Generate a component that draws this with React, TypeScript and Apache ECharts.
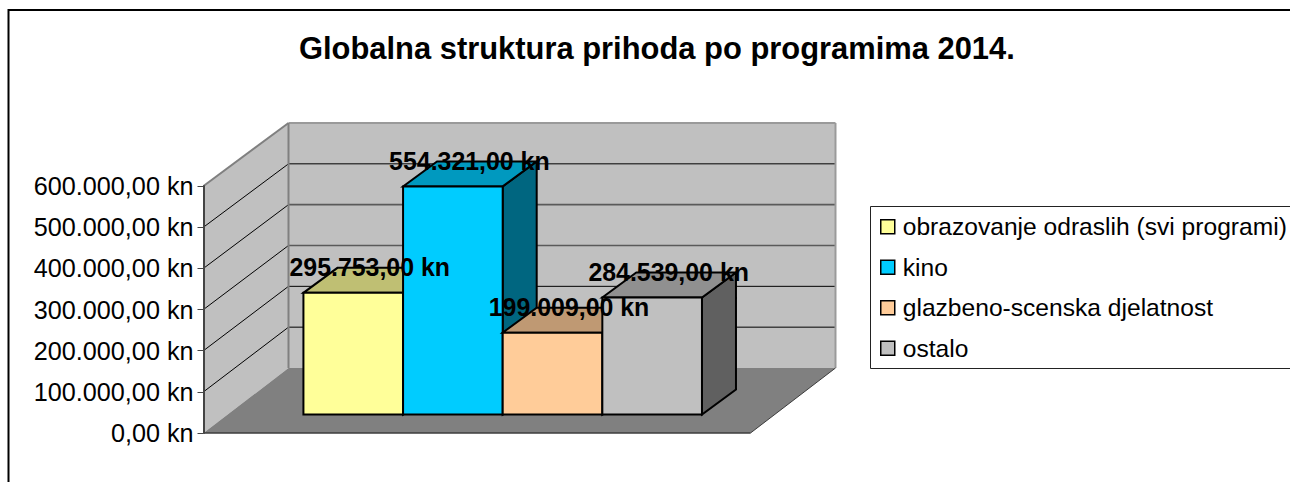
import React, { useEffect, useRef } from "react";
import * as echarts from "echarts";

const TITLE = "Globalna struktura prihoda po programima 2014.";
const PROGRAMS = ["obrazovanje odraslih (svi programi)", "kino", "glazbeno-scenska djelatnost", "ostalo"];
const VALUES = [295753, 554321, 199009, 284539];
const FRONT_COLORS = ["#FFFF99", "#00CCFF", "#FFCC99", "#C0C0C0"];
const TOP_COLORS = ["#BFBF73", "#0099BF", "#BF9973", "#909090"];
const SIDE_COLORS = ["#808040", "#006680", "#806640", "#606060"];
const TICKS = [100000, 200000, 300000, 400000, 500000, 600000];
const BACK_LINE_COLORS = ["#000000", "#000000", "#5a5a5a", "#5a5a5a", "#000000", "#8c8c8c"];
const BACK_LINE_WIDTHS = [1, 1, 1.6, 1.6, 1, 2];

const FONT = '"Liberation Sans", Arial, sans-serif';
const X_MIN = -0.75;
const X_MAX = 4.74;
const WALL_DX = 85;
const WALL_DY = -65;
const WALL_SCALE = 245 / 247;
const BASE_DX = 25.2;
const BASE_DY = -18.4;
const BAR_DX = 34;
const BAR_DY = -25;

const fmt = (v: number) => {
  const s = String(Math.round(v));
  return s.replace(/\B(?=(\d{3})+$)/g, ".") + ",00 kn";
};

const poly = (points: number[][], fill: string, stroke?: string, lineWidth = 2) => ({
  type: "polygon",
  shape: { points },
  style: { fill, stroke: stroke || "none", lineWidth, lineJoin: "miter" },
});
const line = (a: number[], b: number[], stroke: string, lineWidth: number) => ({
  type: "line",
  shape: { x1: a[0], y1: a[1], x2: b[0], y2: b[1] },
  style: { stroke, lineWidth },
});

const renderWalls = (_p: any, api: any) => {
  const o = api.coord([X_MIN, 0]);
  const r = api.coord([X_MAX, 0]);
  const t = api.coord([X_MIN, 600000]);
  const back = (p: number[]) => [p[0] + WALL_DX, o[1] + WALL_DY - (o[1] - p[1]) * WALL_SCALE];
  const b = back(o);
  const rb = back(r);
  const tb = back(t);
  const children: any[] = [
    poly([o, t, tb, b], "#C0C0C0"),
    poly([b, tb, [rb[0], tb[1]], rb], "#C0C0C0"),
    poly([o, b, rb, r], "#808080"),
  ];
  TICKS.forEach((v, i) => {
    const p = api.coord([X_MIN, v]);
    const q = back(p);
    if (v < 600000) {
      children.push(line(p, q, "#000000", 1));
      children.push(line(q, [rb[0], q[1]], BACK_LINE_COLORS[i], BACK_LINE_WIDTHS[i]));
    }
  });
  children.push(line(t, tb, "#808080", 2));
  children.push(line(tb, [rb[0], tb[1]], "#9a9a9a", 2));
  children.push(line([rb[0], tb[1]], rb, "#9a9a9a", 2));
  children.push(line(b, tb, "#808080", 2));
  children.push(line(o, r, "#3c3c3c", 1.5));
  children.push(line(r, rb, "#3c3c3c", 1));
  return { type: "group", children };
};

const renderBar = (k: number) => (_p: any, api: any) => {
  const a0 = api.coord([api.value(0), 0]);
  const a1 = api.coord([api.value(0) + 1, api.value(1)]);
  const x0 = a0[0] + BASE_DX;
  const x1 = a1[0] + BASE_DX;
  const yb = a0[1] + BASE_DY;
  const yt = a1[1] + BASE_DY;
  return {
    type: "group",
    children: [
      poly([[x1, yb], [x1, yt], [x1 + BAR_DX, yt + BAR_DY], [x1 + BAR_DX, yb + BAR_DY]], SIDE_COLORS[k], "#000"),
      poly([[x0, yt], [x1, yt], [x1 + BAR_DX, yt + BAR_DY], [x0 + BAR_DX, yt + BAR_DY]], TOP_COLORS[k], "#000"),
      poly([[x0, yb], [x1, yb], [x1, yt], [x0, yt]], FRONT_COLORS[k], "#000"),
    ],
  };
};

const renderLabel = (_p: any, api: any) => {
  const c = api.coord([api.value(0) + 0.5, api.value(1)]);
  return {
    type: "text",
    x: c[0] + BASE_DX + 16.5,
    y: c[1] + BASE_DY - 25.5,
    style: {
      text: fmt(api.value(1)),
      fill: "#000",
      font: `bold 24.9px ${FONT}`,
      textAlign: "center",
      textVerticalAlign: "middle",
    },
  };
};

export default function App() {
  const ref = useRef<HTMLDivElement>(null);
  useEffect(() => {
    const chart = echarts.init(ref.current!, undefined, { renderer: "svg" });
    chart.setOption({
      animation: false,
      backgroundColor: "#fff",
      title: {
        text: TITLE,
        left: 299,
        top: 33,
        padding: 0,
        textStyle: { fontFamily: FONT, fontWeight: "bold", fontSize: 30.9, color: "#000" },
      },
      grid: { left: 203.5, top: 186, width: 547, height: 247, containLabel: false },
      xAxis: { type: "value", min: X_MIN, max: X_MAX, show: false },
      yAxis: {
        type: "value",
        min: 0,
        max: 600000,
        interval: 100000,
        axisLine: { show: true, onZero: false, lineStyle: { color: "#444", width: 2 } },
        axisTick: { show: true, length: 6, lineStyle: { color: "#444", width: 1 } },
        splitLine: { show: false },
        axisLabel: { margin: 10, color: "#000", fontFamily: FONT, fontSize: 25.2, formatter: (v: number) => (v === 0 ? "0,00 kn" : fmt(v)) },
        z: 5,
      },
      legend: {
        left: 880,
        top: 212.5,
        orient: "vertical",
        itemWidth: 14,
        itemHeight: 14,
        itemGap: 12,
        padding: 0,
        icon: "rect",
        selectedMode: false,
        data: PROGRAMS,
        itemStyle: { borderColor: "#000", borderWidth: 1.5 },
        textStyle: { fontFamily: FONT, fontSize: 24.6, color: "#000", lineHeight: 28.5, padding: [0, 0, 0, 3] },
      },
      graphic: [
        { type: "rect", z: -1, shape: { x: 8.5, y: 10, width: 1400, height: 600 }, style: { fill: "none", stroke: "#000", lineWidth: 2 } },
        { type: "rect", z: -1, shape: { x: 870.5, y: 206.5, width: 500, height: 162 }, style: { fill: "#fff", stroke: "#222", lineWidth: 1 } },
      ],
      series: [
        { type: "custom", name: "walls", z: 1, silent: true, data: [[0, 0]], renderItem: renderWalls, encode: { x: 0, y: 1 } },
        ...PROGRAMS.map((name, k) => ({
          type: "custom",
          name,
          z: 2 + k,
          itemStyle: { color: FRONT_COLORS[k] },
          data: [[k, VALUES[k]]],
          renderItem: renderBar(k),
          encode: { x: 0, y: 1 },
        })),
        { type: "custom", name: "labels", z: 10, silent: true, data: VALUES.map((v, k) => [k, v]), renderItem: renderLabel, encode: { x: 0, y: 1 } },
      ],
    });
    return () => chart.dispose();
  }, []);
  return <div ref={ref} style={{ position: "absolute", left: 0, top: 0, width: 1290, height: 482, overflow: "hidden" }} />;
}
